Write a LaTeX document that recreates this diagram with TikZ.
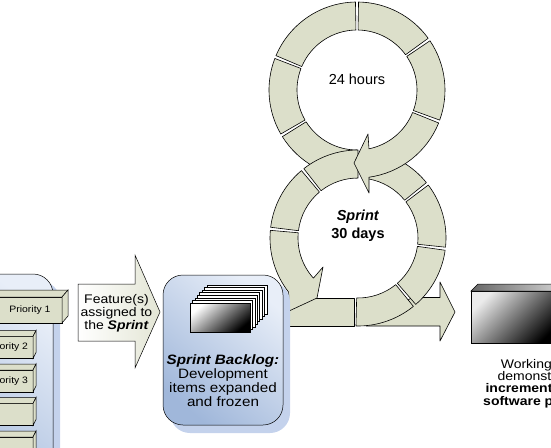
\documentclass[tikz,border=0pt]{standalone}
\usepackage{fontspec}
\setmainfont{Liberation Sans}
\newfontfamily\widesans[FakeStretch=1.12]{Liberation Sans}
\definecolor{bandgreen}{RGB}{220,223,202}
\definecolor{boxblue}{RGB}{160,183,218}
\definecolor{boxpale}{RGB}{232,238,248}
\definecolor{shadowblue}{RGB}{196,210,236}
\tikzset{
  band/.style={fill=bandgreen, draw=black, line width=0.6pt, line join=round},
  cube/.style={fill=bandgreen, draw=black, line width=0.5pt},
  backlog/.style={draw=black, line width=0.5pt, rounded corners=20pt,
    top color=boxpale, bottom color=boxblue, shading angle=-40},
  dropshade/.style={fill=shadowblue, rounded corners=20pt},
  small/.style={font=\widesans\fontsize{12.5}{13}\selectfont, align=center, inner sep=0pt}
}
\newcommand\ringseg[3]{\draw[band, shift={(#1)}] (#2:60) arc[start angle=#2, end angle=#3, radius=60]
  -- (#3:88) arc[start angle=#3, end angle=#2, radius=88] -- cycle;}
\begin{document}
\begin{tikzpicture}[x=1pt, y=-1pt]
  \useasboundingbox (0,0) rectangle (551,447);
  \clip (0,0) rectangle (551,447);
  \coordinate (U) at (357,90);
  \coordinate (L) at (358,238);

  \draw[band] (412,297.5) -- (440,297.5) -- (440,282) -- (455,312) -- (440,341) -- (440,326) -- (366,326) -- cycle;
  \draw[band] (280,298) rectangle (354,326);

  \ringseg{U}{-157}{-91}
  \ringseg{U}{-210}{-159}
  \ringseg{U}{90}{148}
  \ringseg{U}{-89}{-36}
  \ringseg{U}{-34}{20}
  \ringseg{L}{-80}{-39}
  \ringseg{L}{-128}{-90}
  \draw[band, shift={(U)}] (22:60) arc[start angle=22, end angle=78.5, radius=60]
    -- (11,44) -- (-3,73) -- (12,103) -- (12,87.2) arc[start angle=82.2, end angle=22, radius=88] -- cycle;
  \ringseg{L}{-173}{-130}
  \draw[band, shift={(L)}] (185:88) arc[start angle=185, end angle=142, radius=88]
    -- (-69,73) -- (-41,60) -- (-35,29) -- (138:60) arc[start angle=138, end angle=185, radius=60] -- cycle;
  \ringseg{L}{51}{91.3}
  \ringseg{L}{8}{49}
  \ringseg{L}{-37}{6}

  \node (hours) at (357,79) {\fontsize{14.5}{16}\selectfont 24 hours};
  \node[align=center, font=\fontsize{14.5}{18}\selectfont\bfseries] (sprint) at (358,226) {\textit{Sprint}\\30 days};

  \draw[line width=0.5pt, left color=white, right color=bandgreen!80] (78,284) -- (135,284) -- (135,255) -- (160,312)
    -- (135,368) -- (135,341) -- (78,341) -- cycle;
  \node[small] (feature) at (116.5,313) {Feature(s)\\assigned to\\the \textbf{\textit{Sprint}}};

  \fill[dropshade] (-53,281) rectangle (60,527);
  \draw[backlog] (-60,274) rectangle (53,520);
  \draw[cube] (-20,297) rectangle (62,323);
  \draw[cube] (-20,297) -- (-13,290) -- (68,290) -- (62,297) -- cycle;
  \draw[cube] (62,297) -- (68,290) -- (68,316) -- (62,323) -- cycle;
  \foreach \y in {336.5,370,403.5,437} {
    \draw[cube] (-40,\y) rectangle (33,\y+22);
    \draw[cube] (-40,\y) -- (-37,\y-6) -- (36,\y-6) -- (33,\y) -- cycle;
    \draw[cube] (33,\y) -- (36,\y-6) -- (36,\y+16) -- (33,\y+22) -- cycle;
  }
  \node[small, font=\widesans\fontsize{9.3}{10}\selectfont] (prio1) at (30,310) {Priority 1};
  \node[small, font=\widesans\fontsize{9.3}{10}\selectfont] (prio2) at (7.5,347.5) {Priority 2};
  \node[small, font=\widesans\fontsize{9.3}{10}\selectfont] (prio3) at (7.5,381) {Priority 3};

  \fill[dropshade] (170,282) rectangle (290,433);
  \draw[backlog] (163,275) rectangle (283,425);
  \foreach \i in {7,...,1}
    \draw[fill=white, line width=0.6pt] ({190+2.4*\i},{303-2.6*\i}) rectangle +(60,29);
  \draw[line width=0.6pt, top color=white, bottom color=black, shading angle=40] (190,303) rectangle (250,332);
  \node[small, font=\widesans\fontsize{13.6}{14}\selectfont] (sbtext) at (223,381)
    {\textbf{\textit{Sprint Backlog:}}\\Development\\items expanded\\and frozen};

  \draw[line width=0.5pt, top color=white!92!black, bottom color=black, shading angle=45] (471,291) rectangle (560,343);
  \draw[line width=0.5pt, left color=black!60, right color=black!15] (471,291) -- (478,284) -- (567,284) -- (560,291) -- cycle;
  \node[small, font=\widesans\fontsize{12.5}{12.3}\selectfont] (working) at (540,383.5)
    {Working and\\demonstrable\\\textbf{increment of the}\\\textbf{software product}};
\end{tikzpicture}
\end{document}
